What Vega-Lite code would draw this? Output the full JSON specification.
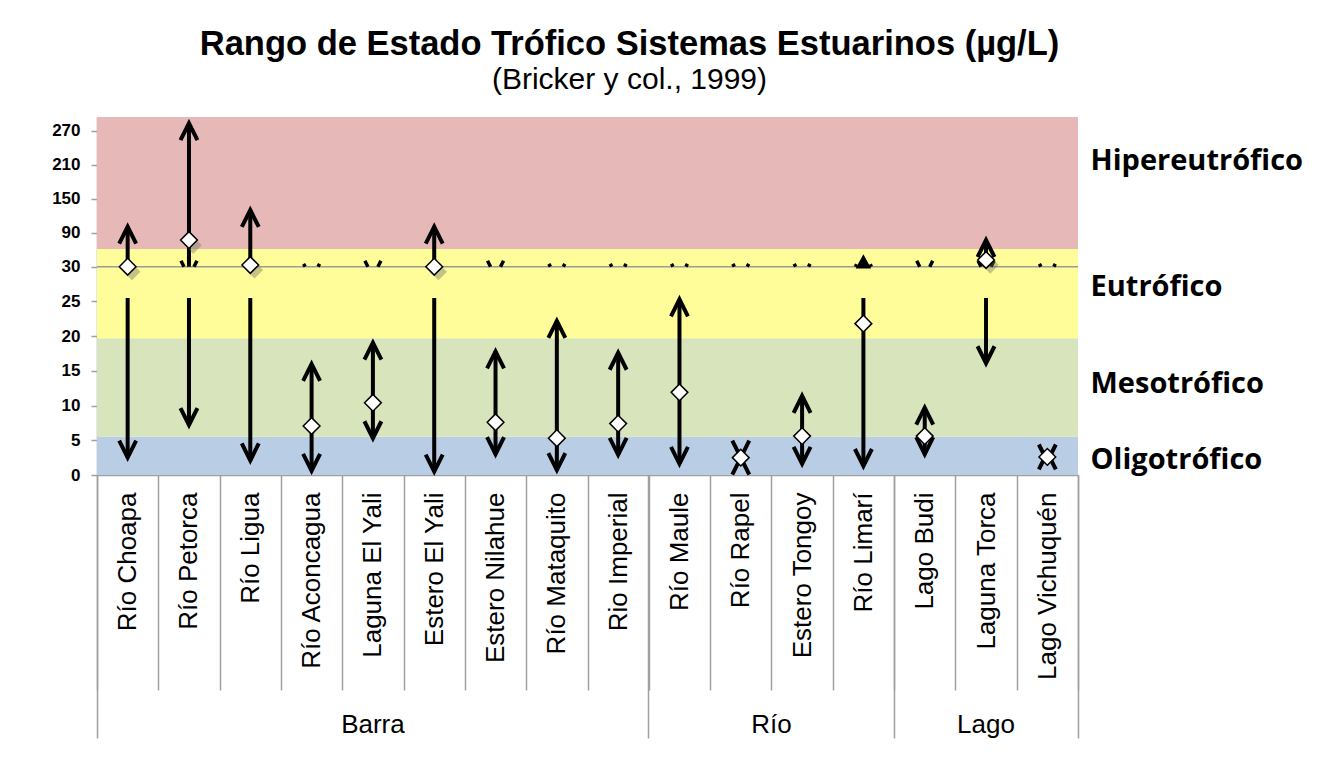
{
  "$schema": "https://vega.github.io/schema/vega-lite/v6.json",
  "width": 981,
  "height": 358,
  "autosize": {"type": "none"},
  "padding": {"left": 97, "top": 117, "right": 250, "bottom": 299},
  "background": "white",
  "config": {"view": {"stroke": null}, "font": "Liberation Sans"},
  "title": {
    "text": "Rango de Estado Trófico Sistemas Estuarinos (µg/L)",
    "subtitle": "(Bricker y col., 1999)",
    "anchor": "middle",
    "frame": "group",
    "dx": 42,
    "offset": 19,
    "font": "Liberation Sans",
    "fontSize": 34.5,
    "fontWeight": "bold",
    "color": "black",
    "subtitleFont": "Liberation Sans",
    "subtitleFontSize": 30,
    "subtitleColor": "black",
    "subtitlePadding": 3
  },
  "datasets": {
    "bands": [
      {"nivel": "Oligotrófico", "lo": 0, "hi": 5.5},
      {"nivel": "Mesotrófico", "lo": 5.5, "hi": 19.7},
      {"nivel": "Eutrófico", "lo": 19.7, "hi": 61},
      {"nivel": "Hipereutrófico", "lo": 61, "hi": 294}
    ],
    "seg": [
      {"cat": "Río Choapa", "lo": 30, "hi": 100.5},
      {"cat": "Río Choapa", "lo": 2.5, "hi": 25.5},
      {"cat": "Río Petorca", "lo": 30, "hi": 283},
      {"cat": "Río Petorca", "lo": 7.2, "hi": 25.5},
      {"cat": "Río Ligua", "lo": 33, "hi": 130},
      {"cat": "Río Ligua", "lo": 2.1, "hi": 25.5},
      {"cat": "Río Aconcagua", "lo": 0.6, "hi": 16},
      {"cat": "Laguna El Yali", "lo": 5.3, "hi": 19.05},
      {"cat": "Estero El Yali", "lo": 30, "hi": 100.5},
      {"cat": "Estero El Yali", "lo": 0.5, "hi": 25.5},
      {"cat": "Estero Nilahue", "lo": 3, "hi": 17.8},
      {"cat": "Río Mataquito", "lo": 0.7, "hi": 22.2},
      {"cat": "Rio Imperial", "lo": 2.9, "hi": 17.6},
      {"cat": "Río Maule", "lo": 1.6, "hi": 25.3},
      {"cat": "Estero Tongoy", "lo": 1.6, "hi": 11.4},
      {"cat": "Río Limarí", "lo": 1.3, "hi": 25.5},
      {"cat": "Lago Budi", "lo": 3, "hi": 9.7},
      {"cat": "Laguna Torca", "lo": 30, "hi": 77},
      {"cat": "Laguna Torca", "lo": 16.1, "hi": 25.5},
      {"cat": "Lago Vichuquén", "lo": 1.95, "hi": 3.25}
    ],
    "heads": [
      {"cat": "Río Choapa", "v": 100.5, "dir": "up"},
      {"cat": "Río Choapa", "v": 2.5, "dir": "down"},
      {"cat": "Río Petorca", "v": 283, "dir": "up"},
      {"cat": "Río Petorca", "v": 7.2, "dir": "down"},
      {"cat": "Río Ligua", "v": 130, "dir": "up"},
      {"cat": "Río Ligua", "v": 2.1, "dir": "down"},
      {"cat": "Río Aconcagua", "v": 16, "dir": "up"},
      {"cat": "Río Aconcagua", "v": 0.6, "dir": "down"},
      {"cat": "Laguna El Yali", "v": 19.05, "dir": "up"},
      {"cat": "Laguna El Yali", "v": 5.3, "dir": "down"},
      {"cat": "Estero El Yali", "v": 100.5, "dir": "up"},
      {"cat": "Estero El Yali", "v": 0.5, "dir": "down"},
      {"cat": "Estero Nilahue", "v": 17.8, "dir": "up"},
      {"cat": "Estero Nilahue", "v": 3, "dir": "down"},
      {"cat": "Río Mataquito", "v": 22.2, "dir": "up"},
      {"cat": "Río Mataquito", "v": 0.7, "dir": "down"},
      {"cat": "Rio Imperial", "v": 17.6, "dir": "up"},
      {"cat": "Rio Imperial", "v": 2.9, "dir": "down"},
      {"cat": "Río Maule", "v": 25.3, "dir": "up"},
      {"cat": "Río Maule", "v": 1.6, "dir": "down"},
      {"cat": "Río Rapel", "v": 2.5, "dir": "up"},
      {"cat": "Río Rapel", "v": 2.5, "dir": "down"},
      {"cat": "Estero Tongoy", "v": 11.4, "dir": "up"},
      {"cat": "Estero Tongoy", "v": 1.6, "dir": "down"},
      {"cat": "Río Limarí", "v": 1.3, "dir": "down"},
      {"cat": "Lago Budi", "v": 9.7, "dir": "up"},
      {"cat": "Lago Budi", "v": 3, "dir": "down"},
      {"cat": "Laguna Torca", "v": 77, "dir": "up"},
      {"cat": "Laguna Torca", "v": 16.1, "dir": "down"},
      {"cat": "Lago Vichuquén", "v": 3.25, "dir": "up"},
      {"cat": "Lago Vichuquén", "v": 1.95, "dir": "down"}
    ],
    "clips": [
      {"cat": "Río Petorca", "v": 30, "kind": "v"},
      {"cat": "Río Aconcagua", "v": 30, "kind": "dots"},
      {"cat": "Laguna El Yali", "v": 30, "kind": "v"},
      {"cat": "Estero Nilahue", "v": 30, "kind": "v"},
      {"cat": "Río Mataquito", "v": 30, "kind": "dots"},
      {"cat": "Rio Imperial", "v": 30, "kind": "dots"},
      {"cat": "Río Maule", "v": 30, "kind": "dots"},
      {"cat": "Río Rapel", "v": 30, "kind": "dots"},
      {"cat": "Estero Tongoy", "v": 30, "kind": "dots"},
      {"cat": "Río Limarí", "v": 30, "kind": "tri"},
      {"cat": "Lago Budi", "v": 30, "kind": "v"},
      {"cat": "Laguna Torca", "v": 30, "kind": "v"},
      {"cat": "Lago Vichuquén", "v": 30, "kind": "dots"}
    ],
    "diam": [
      {"cat": "Río Choapa", "grp": "Barra", "v": 30, "sombra": true},
      {"cat": "Río Petorca", "grp": "Barra", "v": 77, "sombra": true},
      {"cat": "Río Ligua", "grp": "Barra", "v": 33, "sombra": true},
      {"cat": "Río Aconcagua", "grp": "Barra", "v": 7.06, "sombra": false},
      {"cat": "Laguna El Yali", "grp": "Barra", "v": 10.4, "sombra": false},
      {"cat": "Estero El Yali", "grp": "Barra", "v": 30, "sombra": true},
      {"cat": "Estero Nilahue", "grp": "Barra", "v": 7.6, "sombra": false},
      {"cat": "Río Mataquito", "grp": "Barra", "v": 5.3, "sombra": false},
      {"cat": "Rio Imperial", "grp": "Barra", "v": 7.4, "sombra": false},
      {"cat": "Río Maule", "grp": "Río", "v": 11.9, "sombra": false},
      {"cat": "Río Rapel", "grp": "Río", "v": 2.5, "sombra": false},
      {"cat": "Estero Tongoy", "grp": "Río", "v": 5.6, "sombra": false},
      {"cat": "Río Limarí", "grp": "Río", "v": 21.8, "sombra": false},
      {"cat": "Lago Budi", "grp": "Lago", "v": 5.6, "sombra": false},
      {"cat": "Laguna Torca", "grp": "Lago", "v": 41.8, "sombra": true},
      {"cat": "Lago Vichuquén", "grp": "Lago", "v": 2.6, "sombra": false}
    ]
  },
  "resolve": {
    "axis": {"x": "independent", "y": "independent"},
    "scale": {"shape": "independent"}
  },
  "layer": [
    {
      "data": {"name": "bands"},
      "mark": {"type": "rect"},
      "encoding": {
        "x": {"value": 0},
        "x2": {"value": "width"},
        "y": {
          "field": "lo", "type": "quantitative",
          "scale": {"domain": [0, 30, 294], "range": [358, 149.7, 0], "nice": false, "zero": false},
          "axis": {
            "orient": "left", "title": null,
            "values": [0, 5, 10, 15, 20, 25, 30, 90, 150, 210, 270],
            "labelFont": "Liberation Sans", "labelFontWeight": "bold", "labelFontSize": 17,
            "labelColor": "black", "labelPadding": 11, "labelFlush": false, "labelOverlap": false,
            "tickSize": 6, "tickColor": "#a0a0a0", "tickWidth": 1.5,
            "domainColor": "#a0a0a0", "domainWidth": 1.5, "grid": false
          }
        },
        "y2": {"field": "hi"},
        "color": {
          "field": "nivel", "type": "nominal",
          "scale": {
            "domain": ["Oligotrófico", "Mesotrófico", "Eutrófico", "Hipereutrófico"],
            "range": ["#B9CDE5", "#D8E4BC", "#FFFD99", "#E6B9B8"]
          },
          "legend": null
        }
      }
    },
    {
      "data": {"values": [{"v": 30}]},
      "mark": {"type": "rule", "color": "#9a9a9a", "strokeWidth": 1.5},
      "encoding": {
        "y": {"field": "v", "type": "quantitative", "axis": null}
      }
    },
    {
      "data": {"name": "seg"},
      "mark": {"type": "rule", "color": "black", "strokeWidth": 4},
      "encoding": {
        "x": {
          "field": "cat", "type": "nominal", "sort": null,
          "scale": {"type": "band", "paddingInner": 0, "paddingOuter": 0,
            "domain": ["Río Choapa", "Río Petorca", "Río Ligua", "Río Aconcagua", "Laguna El Yali", "Estero El Yali", "Estero Nilahue", "Río Mataquito", "Rio Imperial", "Río Maule", "Río Rapel", "Estero Tongoy", "Río Limarí", "Lago Budi", "Laguna Torca", "Lago Vichuquén"]},
          "axis": {
            "orient": "bottom", "title": null,
            "values": ["Río Choapa", "Río Maule", "Lago Budi"],
            "bandPosition": 0,
            "tickSize": 263, "tickColor": "#a0a0a0", "tickWidth": 1.5,
            "domain": false,
            "labelExpr": "datum.value == 'Río Choapa' ? 'Barra' : datum.value == 'Río Maule' ? 'Río' : 'Lago'",
            "labelAngle": 0, "labelAlign": "center", "labelBaseline": "top",
            "labelFont": "Liberation Sans", "labelFontSize": 26, "labelColor": "black",
            "labelPadding": -27, "labelOverlap": false, "labelLimit": 0,
            "labelOffset": {
              "condition": [
                {"test": "datum.value == 'Río Choapa'", "value": 245.25},
                {"test": "datum.value == 'Río Maule'", "value": 92}
              ],
              "value": 61.3
            }
          }
        },
        "y": {
          "field": "lo", "type": "quantitative",
          "axis": {
            "orient": "right", "title": null,
            "values": [2.3, 13.25, 27.2, 218],
            "labelExpr": "datum.value < 5 ? 'Oligotrófico' : datum.value < 20 ? 'Mesotrófico' : datum.value < 30 ? 'Eutrófico' : 'Hipereutrófico'",
            "labelFont": "Open Sans", "labelFontWeight": "bold", "labelFontSize": 29,
            "labelColor": "black", "labelPadding": 12, "labelFlush": false, "labelOverlap": false,
            "labelAlign": "left", "labelBaseline": "middle", "labelLimit": 0,
            "ticks": false, "domain": false, "grid": false
          }
        },
        "y2": {"field": "hi"}
      }
    },
    {
      "data": {"name": "heads"},
      "mark": {"type": "point", "filled": false, "stroke": "black", "strokeWidth": 4, "strokeJoin": "miter", "strokeCap": "butt", "size": 1150, "opacity": 1},
      "encoding": {
        "x": {
          "field": "cat", "type": "nominal", "sort": null,
          "axis": {
            "orient": "bottom", "title": null,
            "values": ["Lago Vichuquén"], "bandPosition": 1,
            "tickSize": 263, "tickColor": "#a0a0a0", "tickWidth": 1.5,
            "domain": false, "labels": false
          }
        },
        "y": {"field": "v", "type": "quantitative", "axis": null},
        "shape": {
          "field": "dir", "type": "nominal",
          "scale": {"domain": ["up", "down"], "range": ["M-0.5,1L0,0L0.5,1", "M-0.5,-1L0,0L0.5,-1"]},
          "legend": null
        }
      }
    },
    {
      "data": {"name": "clips"},
      "mark": {"type": "point", "filled": true, "fill": "black", "stroke": "black", "strokeWidth": 3.5, "strokeCap": "butt", "size": 256, "opacity": 1},
      "encoding": {
        "x": {"field": "cat", "type": "nominal", "sort": null, "axis": null},
        "y": {"field": "v", "type": "quantitative", "axis": null},
        "shape": {
          "field": "kind", "type": "nominal",
          "scale": {
            "domain": ["v", "dots", "tri"],
            "range": [
              "M-1,-0.75L-0.625,0M0.625,0L1,-0.75",
              "M-1,-0.35L-0.8,0M0.8,0L1,-0.35",
              "M-1,0L-0.85,-0.3M1,0L0.85,-0.3M-0.6,0L0,-1.1L0.6,0Z"
            ]
          },
          "legend": null
        }
      }
    },
    {
      "data": {"name": "diam"},
      "transform": [{"filter": "datum.sombra"}],
      "mark": {"type": "point", "filled": true, "fill": "#6f6f5f", "fillOpacity": 0.4, "strokeWidth": 0, "size": 290, "opacity": 1,
        "shape": "M0.5,-0.4L1.5,0.6L0.5,1.6L-0.5,0.6Z"},
      "encoding": {
        "x": {"field": "cat", "type": "nominal", "sort": null, "axis": null},
        "y": {"field": "v", "type": "quantitative", "axis": null}
      }
    },
    {
      "data": {"name": "diam"},
      "mark": {"type": "point", "shape": "diamond", "filled": true, "fill": "white", "stroke": "black", "strokeWidth": 1.5, "size": 280, "opacity": 1},
      "encoding": {
        "x": {
          "field": "cat", "type": "nominal", "sort": null,
          "axis": {
            "orient": "bottom", "title": null,
            "labelAngle": -90, "labelAlign": "right", "labelBaseline": "middle",
            "labelFont": "Liberation Sans", "labelFontSize": 26, "labelColor": "black",
            "labelPadding": -198, "labelLimit": 0, "labelOverlap": false,
            "tickBand": "extent", "tickSize": 215, "tickColor": "#a0a0a0", "tickWidth": 1.5,
            "domain": true, "domainColor": "#a0a0a0", "domainWidth": 1.5
          }
        },
        "y": {"field": "v", "type": "quantitative", "axis": null},
        "tooltip": [{"field": "cat"}, {"field": "grp"}, {"field": "v"}]
      }
    }
  ]
}
